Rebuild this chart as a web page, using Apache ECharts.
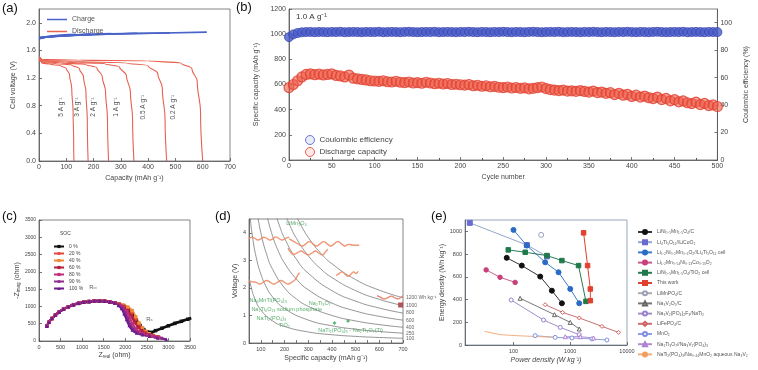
<!DOCTYPE html>
<html><head><meta charset="utf-8">
<script src="https://cdn.jsdelivr.net/npm/echarts@6/dist/echarts.min.js"></script>
<style>html,body{margin:0;padding:0;background:#fff}#c{width:758px;height:370px}</style>
</head><body><div id="c"></div>
<script>
// ---------- Panel (a) ----------
const chargeA = [
  [[0,1.77],[30,1.80],[70,1.82],[110,1.83],[135,1.835]],
  [[0,1.77],[40,1.80],[100,1.82],[150,1.83],[190,1.84]],
  [[0,1.78],[50,1.80],[130,1.82],[200,1.835],[265,1.845]],
  [[0,1.78],[60,1.805],[160,1.825],[260,1.84],[360,1.85]],
  [[0,1.785],[80,1.81],[200,1.83],[340,1.845],[480,1.855]],
  [[0,1.79],[100,1.815],[250,1.835],[420,1.85],[615,1.865]]
];
const dischargeA = [
  [[0,1.46],[10,1.42],[40,1.40],[80,1.38],[100,1.34],[112,1.25],[120,1.05],[125,0.7],[127,0.3],[128,0]],
  [[0,1.47],[10,1.43],[60,1.41],[120,1.39],[148,1.34],[163,1.22],[172,1.0],[177,0.6],[180,0]],
  [[0,1.48],[10,1.44],[80,1.42],[170,1.40],[212,1.35],[232,1.22],[244,1.0],[251,0.6],[255,0]],
  [[0,1.49],[10,1.45],[100,1.43],[240,1.41],[295,1.36],[320,1.24],[335,1.0],[343,0.6],[348,0]],
  [[0,1.50],[10,1.46],[130,1.44],[320,1.42],[400,1.38],[435,1.27],[452,1.05],[462,0.6],[468,0]],
  [[0,1.51],[10,1.47],[150,1.46],[400,1.45],[520,1.42],[560,1.34],[580,1.15],[592,0.7],[600,0]]
];
const rateCap = [82,140,198,284,382,492];
const rateVolt = [0.78,0.78,0.78,0.78,0.78,0.78];
const rateText = ['5 A g⁻¹','3 A g⁻¹','2 A g⁻¹','1 A g⁻¹','0.5 A g⁻¹','0.2 A g⁻¹'];

// ---------- Panel (b) ----------
const cycles = [0,5,10,15,20,25,30,35,40,45,50,55,60,65,70,75,80,85,90,95,100,105,110,115,120,125,130,135,140,145,150,155,160,165,170,175,180,185,190,195,200,205,210,215,220,225,230,235,240,245,250,255,260,265,270,275,280,285,290,295,300,305,310,315,320,325,330,335,340,345,350,355,360,365,370,375,380,385,390,395,400,405,410,415,420,425,430,435,440,445,450,455,460,465,470,475,480,485,490,495,500];
const coulombic = [
  89.5,91.5,92.5,93.0,93.2,93.3,93.1,93.3,93.2,93.1,
  93.3,93.2,93.4,93.1,93.2,93.3,93.2,93.1,93.3,93.2,
  93.2,93.4,93.1,93.2,93.3,93.2,93.1,93.3,93.4,93.2,
  93.1,93.2,93.3,93.2,93.4,93.1,93.2,93.3,93.2,93.1,
  93.3,93.2,93.4,93.2,93.1,93.3,93.2,93.1,93.3,93.2,
  93.4,93.2,93.1,93.3,93.2,93.1,93.3,93.4,93.2,93.1,
  93.2,93.3,93.2,93.4,93.1,93.2,93.3,93.2,93.1,93.3,
  93.2,93.4,93.2,93.1,93.3,93.2,93.1,93.3,93.2,93.4,
  93.2,93.1,93.3,93.2,93.1,93.3,93.4,93.2,93.1,93.2,
  93.3,93.2,93.4,93.1,93.2,93.3,93.2,93.1,93.3,93.2,
  93.2];
const dischargeCap = [
  575,600,630,660,680,685,678,682,676,680,
  684,672,668,660,675,650,645,640,636,630,
  628,625,630,622,620,626,618,615,620,612,
  615,610,618,612,606,610,604,608,600,602,
  598,595,600,590,594,586,590,582,585,578,
  575,580,572,576,570,573,566,570,575,580,
  568,560,556,552,555,548,550,546,552,545,
  540,548,536,540,530,535,520,530,515,522,
  505,515,500,508,495,488,500,480,490,470,
  480,462,470,455,448,460,440,450,432,438,
  425];

// ---------- Panel (c) ----------
const socNames = ['0 %','20 %','40 %','60 %','80 %','90 %','100 %'];
const nyqArc = [[180,430],[230,540],[300,650],[380,750],[470,840],[570,920],[680,990],[800,1050],[920,1090],[1040,1120],[1160,1140],[1280,1155],[1400,1160],[1520,1150],[1640,1130],[1760,1100]];
const nyqTails = [
  [[1860,1060],[1960,1000],[2060,900],[2160,760],[2250,600],[2340,450],[2430,330],[2520,260],[2600,250],[2700,300],[2850,370],[3000,440],[3150,510],[3300,570],[3450,630],[3530,660]],
  [[1860,1070],[1960,1020],[2060,940],[2160,800],[2250,620],[2330,450],[2410,320],[2480,240],[2560,180],[2650,140],[2750,110]],
  [[1860,1075],[1960,1040],[2060,980],[2160,880],[2240,700],[2320,520],[2400,380],[2480,280],[2560,210],[2650,160],[2760,120]],
  [[1860,1060],[1960,1000],[2050,880],[2140,720],[2220,540],[2300,400],[2380,300],[2460,230],[2550,180],[2650,140],[2760,110]],
  [[1860,1050],[1950,980],[2030,850],[2100,680],[2170,500],[2240,360],[2320,270],[2420,210],[2530,170],[2650,140],[2780,100]],
  [[1850,1040],[1930,960],[2000,820],[2060,650],[2120,480],[2190,340],[2280,250],[2400,190],[2550,150],[2700,110],[2850,80]],
  [[1840,1030],[1910,940],[1970,790],[2030,620],[2090,450],[2160,320],[2260,230],[2400,180],[2560,140],[2750,90],[2950,50]]
];
const nyqNotePos = [[1250,1560],[2560,640]];
const nyqNoteText = ['R{s|ct}','R{s|s}'];

// ---------- Panel (d) ----------
const isoLines = [
  [[250,4.6],[260,4.423],[300,3.833],[350,3.286],[400,2.875],[500,2.3],[600,1.917],[700,1.643]],
  [[200,4.75],[220,4.318],[250,3.8],[300,3.167],[350,2.714],[400,2.375],[500,1.9],[600,1.583],[700,1.357]],
  [[160,4.75],[180,4.222],[200,3.8],[250,3.04],[300,2.533],[400,1.9],[500,1.52],[600,1.267],[700,1.086]],
  [[125,4.64],[150,3.867],[175,3.314],[200,2.9],[250,2.32],[300,1.933],[400,1.45],[500,1.16],[600,0.967],[700,0.829]],
  [[85,4.706],[100,4.0],[125,3.2],[150,2.667],[200,2.0],[250,1.6],[300,1.333],[400,1.0],[500,0.8],[600,0.667],[700,0.571]],
  [[50,5.0],[55,4.545],[65,3.846],[80,3.125],[100,2.5],[125,2.0],[150,1.667],[200,1.25],[300,0.833],[400,0.625],[500,0.5],[600,0.417],[700,0.357]],
  [[50,2.4],[60,2.0],[75,1.6],[100,1.2],[150,0.8],[200,0.6],[300,0.4],[400,0.3],[500,0.24],[600,0.2],[700,0.171]]
];
const isoText = ['1200 Wh kg⁻¹','1000','800','600','400','250','100'];
const cathodeWaves = [
  [[50,3.78],[62,3.84],[75,3.8],[88,3.74],[100,3.78],[112,3.84],[125,3.8],[138,3.74],[150,3.78],[162,3.85],[175,3.8],[190,3.74],[205,3.8],[220,3.84]],
  [[220,3.78],[240,3.68],[260,3.58],[275,3.52],[290,3.6],[305,3.68],[320,3.6],[335,3.52],[350,3.6],[365,3.68],[380,3.6],[395,3.52],[410,3.6],[425,3.68],[440,3.6],[455,3.52],[470,3.58],[490,3.55],[515,3.55]],
  [[215,3.45],[225,3.3],[240,3.22],[255,3.28],[270,3.34],[285,3.26],[300,3.2],[315,3.26],[330,3.34],[345,3.26],[360,3.2],[372,3.3],[383,3.4]],
  [[50,2.25],[65,2.22],[80,2.2],[95,2.14],[110,2.2],[125,2.27],[140,2.2],[155,2.14],[170,2.2],[185,2.27],[200,2.2],[215,2.14],[230,2.2],[245,2.3],[255,2.45],[263,2.55]],
  [[418,2.45],[430,2.52],[442,2.58],[455,2.5],[468,2.42],[480,2.5],[492,2.58],[502,2.52],[510,2.6]],
  [[590,1.72],[605,1.66],[620,1.6],[635,1.64],[650,1.7],[665,1.64],[680,1.6],[692,1.66],[700,1.72]]
];
const thisWorkD = [[690,1.38]];
const anodePos = [[205,4.32],[50,1.55],[300,1.45],[58,1.2],[80,0.9],[175,0.62],[340,0.45]];
const anodeText = ['LiMn₂O₄','Na₃MnTi(PO₄)₃','Na₂Ti₃O₇','Na₂Ti₆O₁₃ sodium phosphate','NaTi₂(PO₄)₃','TiO₂','NaTi₂(PO₄)₃ - Na₂Ti₃O₇(Ti)'];
const anodeMarks = [[411,0.73],[468,0.8]];

// ---------- Panel (e) ----------
const ragoneNames = ['LiNi₀.₅Mn₁.₅O₄/C','Li₄Ti₅O₁₂//LiCoO₂','Li₁.₂Ni₀.₂Mn₀.₆O₂//Li₄Ti₅O₁₂ cell','Li₁.₂Mn₀.₅₄Ni₀.₁₃Co₀.₁₃O₂','LiNi₀.₅Mn₁.₅O₄/TiO₂ cell','This work','LiMnPO₄/C','Na₃V₂O₅/C','Na₃V₂(PO₄)₂F₃/NaTi₂','LiFePO₄/C','MnO₂','Na₂Ti₃O₇//Na₃V₂(PO₄)₃','NaTi₂(PO₄)₃/Na₀.₄₄MnO₂ aqueous Na₃V₂'];
const ragoneData = [
  [[76,767],[140,699],[296,602],[475,478],[713,367]],
  [[17,1075],[172,880],[390,780]],
  [[100,1013],[172,875],[362,728],[622,640],[1000,493],[1440,367]],
  [[33,661],[58,596],[107,551]],
  [[81,837],[161,816],[388,787],[713,743],[1400,699],[1890,384]],
  [[1720,987],[2020,699],[2260,493],[2260,390]],
  [[308,969]],
  [[131,411],[528,267],[1000,199],[1442,141]],
  [[91,396],[338,220],[667,155],[1442,91]],
  [[362,355],[733,287],[1442,238],[3623,164],[7115,111]],
  [[241,82],[543,67],[1072,62],[2415,53],[4434,44]],
  [[817,73],[1500,73],[2577,62]],
  [[31,120],[58,91],[115,82],[295,73],[582,67]]
];

// ---------- styling / assembly ----------
const FF = 'Liberation Sans, Arial, sans-serif';
function merge(a,b){ const o = Array.isArray(a)?a.slice():Object.assign({},a); for(const k in b){ if(b[k] && typeof b[k]==='object' && !Array.isArray(b[k]) && a[k] && typeof a[k]==='object') o[k]=merge(a[k],b[k]); else o[k]=b[k]; } return o; }
function axis(extra){
  return merge({
    axisLine:{show:true,onZero:false,lineStyle:{color:'#555',width:0.8}},
    axisTick:{show:true,inside:true,length:3,lineStyle:{color:'#555',width:0.8}},
    axisLabel:{fontSize:7,color:'#444',fontFamily:FF,margin:3,formatter:v=>String(v)},
    splitLine:{show:false},
    nameLocation:'middle',
    nameTextStyle:{fontSize:7,color:'#444',fontFamily:FF}
  }, extra);
}
const gridStyle = {show:true,borderColor:'#666',borderWidth:0.8,backgroundColor:'transparent'};
const hidden = {color:'rgba(0,0,0,0)'};

const series = [];
chargeA.forEach(d=>series.push({name:'Charge',type:'line',xAxisIndex:0,yAxisIndex:0,data:d,smooth:true,symbol:'none',lineStyle:{color:'#4a63c8',width:1.6},itemStyle:{color:'#4a63c8'}}));
dischargeA.forEach(d=>series.push({name:'Discharge',type:'line',xAxisIndex:0,yAxisIndex:0,data:d,smooth:0.4,smoothMonotone:'y',symbol:'none',lineStyle:{color:'#e8604f',width:1.1},itemStyle:{color:'#e8604f'}}));
series.push({name:'rates',type:'scatter',xAxisIndex:0,yAxisIndex:0,symbol:'circle',symbolSize:1,itemStyle:hidden,data:rateCap.map((c,i)=>[c,rateVolt[i]]),
  label:{show:true,position:'inside',rotate:90,fontSize:6.5,color:'#222',fontFamily:FF,formatter:p=>rateText[p.dataIndex]}});

series.push({name:'Coulombic efficiency',type:'scatter',xAxisIndex:1,yAxisIndex:2,data:cycles.map((c,i)=>[c,coulombic[i]]),symbolSize:9,
  itemStyle:{color:'#4a5cc8',borderColor:'#3646b0',borderWidth:1}});
series.push({name:'Discharge capacity',type:'scatter',xAxisIndex:1,yAxisIndex:1,data:cycles.map((c,i)=>[c,dischargeCap[i]]),symbolSize:10,
  itemStyle:{color:'rgba(238,90,70,0.75)',borderColor:'#e0402f',borderWidth:1.2}});

const socColors = ['#111111','#e8453c','#f0893a','#b3203c','#c42f7c','#8e2c8e','#6b1b8c'];
const socSymbols = ['rect','circle','rect','rect','rect','circle','triangle'];
nyqTails.forEach((t,i)=>series.push({name:socNames[i],type:'line',xAxisIndex:2,yAxisIndex:3,data:(i===0?nyqArc.slice(8):nyqArc).concat(t),
  smooth:true,symbol:socSymbols[i],symbolSize:3.5,showSymbol:true,lineStyle:{color:socColors[i],width:i===0?2.8:2.2},itemStyle:{color:socColors[i]}}));
series.push({name:'notesC',type:'scatter',xAxisIndex:2,yAxisIndex:3,symbol:'circle',symbolSize:1,itemStyle:hidden,data:nyqNotePos,
  label:{show:true,position:'inside',fontSize:6,color:'#333',fontFamily:FF,formatter:p=>nyqNoteText[p.dataIndex],rich:{s:{fontSize:4,verticalAlign:'bottom',color:'#333'}}}});

isoLines.forEach((d,i)=>series.push({name:'iso'+i,type:'line',xAxisIndex:3,yAxisIndex:4,data:d,smooth:true,symbol:'none',clip:true,
  lineStyle:{color:'#7a7a7a',width:0.8},endLabel:{show:true,formatter:isoText[i],fontSize:5,color:'#666',fontFamily:FF,distance:3}}));
cathodeWaves.forEach((d,i)=>series.push({name:'cat'+i,type:'line',xAxisIndex:3,yAxisIndex:4,data:d,smooth:true,symbol:'none',
  lineStyle:{color:i===5?'#e8806a':'#ec8b66',width:1.4,opacity:0.9}}));
series.push({name:'twD',type:'scatter',xAxisIndex:3,yAxisIndex:4,data:thisWorkD,symbol:'rect',symbolSize:5,itemStyle:{color:'#b0202a'}});
series.push({name:'anode',type:'scatter',xAxisIndex:3,yAxisIndex:4,symbol:'circle',symbolSize:1,itemStyle:hidden,data:anodePos,
  label:{show:true,position:'right',distance:0,fontSize:5.5,color:'#2a9a45',fontFamily:FF,formatter:p=>anodeText[p.dataIndex]}});
series.push({name:'anodeM',type:'scatter',xAxisIndex:3,yAxisIndex:4,data:anodeMarks,symbol:'diamond',symbolSize:4,itemStyle:{color:'#3aa655'}});

const eColors = ['#111111','#6a6ad0','#2a6bc4','#c8407a','#1f7a4a','#e0402f','#9aa0b8','#666666','#9a7fd0','#d06060','#7f8fe0','#b080d0','#f0a060'];
const eLine = ['#333','#8fa8c8','#3a7bd0','#c85a8a','#2a7a55','#e0402f','#aaa','#777','#a090c8','#c87070','#8f9fe0','#b090d0','#f0b080'];
const eSym = ['circle','rect','circle','circle','rect','rect','circle','triangle','circle','diamond','circle','triangle','none'];
const eSize = [5,5,5,4.5,4.5,4.5,5,4,4,4,4,4,4];
ragoneData.forEach((d,i)=>series.push({name:ragoneNames[i],type:'line',xAxisIndex:4,yAxisIndex:5,data:d,
  symbol:eSym[i],symbolSize:eSize[i],showSymbol:true,
  lineStyle:{color:eLine[i],width:1},
  itemStyle:{color:i>=6&&i<12?'#fff':eColors[i],borderColor:eColors[i],borderWidth:1}}));

const lineIcon = 'path://M0,0L20,0L20,1.5L0,1.5Z';
const option = {
  animation:false,
  backgroundColor:'#fff',
  textStyle:{fontFamily:FF},
  grid:[
    merge(gridStyle,{left:39,top:9,width:191,height:152}),
    merge(gridStyle,{left:289,top:9,width:436,height:151}),
    merge(gridStyle,{left:39,top:220,width:151,height:121}),
    merge(gridStyle,{left:249,top:219,width:154,height:124}),
    merge(gridStyle,{left:465,top:220,width:162,height:125,borderColor:'#8090a8'})
  ],
  xAxis:[
    axis({gridIndex:0,type:'value',min:0,max:700,interval:100,name:'Capacity (mAh g⁻¹)',nameGap:14}),
    axis({gridIndex:1,type:'value',min:0,max:500,interval:50,name:'Cycle number',nameGap:14,minorTick:{show:true,splitNumber:2,length:2}}),
    axis({gridIndex:2,type:'value',min:0,max:3500,interval:500,name:'Z{s|real} (ohm)',nameGap:11,nameTextStyle:{rich:{s:{fontSize:4.5,verticalAlign:'bottom'}}},axisLabel:{fontSize:5.5}}),
    axis({gridIndex:3,type:'value',min:50,max:700,interval:50,name:'Specific capacity (mAh g⁻¹)',nameGap:12,axisLabel:{fontSize:5.5,formatter:v=>v%100===0?String(v):''}}),
    axis({gridIndex:4,type:'log',logBase:10,min:14,max:10000,name:'Power density (W kg⁻¹)',nameGap:12,axisLabel:{fontSize:5.5,showMinLabel:false,formatter:v=>[100,1000,10000].indexOf(Math.round(v))>=0?String(Math.round(v)):''},nameTextStyle:{fontStyle:'italic'}})
  ],
  yAxis:[
    axis({gridIndex:0,type:'value',min:0,max:2.2,interval:0.4,name:'Cell voltage (V)',nameGap:22,axisLabel:{showMaxLabel:false,formatter:v=>v.toFixed(1)}}),
    axis({gridIndex:1,type:'value',min:0,max:1200,interval:200,name:'Specific capacity (mAh g⁻¹)',nameGap:24}),
    axis({gridIndex:1,type:'value',position:'right',min:0,max:110,interval:20,name:'Coulombic efficiency (%)',nameGap:17,axisLabel:{showMaxLabel:false}}),
    axis({gridIndex:2,type:'value',min:0,max:3500,interval:500,name:'-Z{s|imag} (ohm)',nameGap:18,nameTextStyle:{rich:{s:{fontSize:4.5,verticalAlign:'bottom'}}},axisLabel:{fontSize:5}}),
    axis({gridIndex:3,type:'value',min:0,max:4.5,interval:1,name:'Voltage (V)',nameGap:10,axisLabel:{fontSize:5.5,showMaxLabel:false}}),
    axis({gridIndex:4,type:'value',min:0,max:1100,interval:200,name:'Energy density (Wh kg⁻¹)',nameGap:16,axisLabel:{fontSize:5.5,showMaxLabel:false}})
  ],
  legend:[
    {left:42,top:11,orient:'vertical',itemWidth:20,itemHeight:2,itemGap:5,textStyle:{fontSize:7,color:'#555'},
      data:[{name:'Charge',icon:lineIcon},{name:'Discharge',icon:lineIcon}]},
    {left:300,top:130,orient:'vertical',itemWidth:9,itemHeight:9,itemGap:2,textStyle:{fontSize:8,color:'#444'},
      data:[{name:'Coulombic efficiency',icon:'circle',itemStyle:{color:'rgba(200,205,240,0.5)',borderColor:'#4a5ac0',borderWidth:1}},
            {name:'Discharge capacity',icon:'circle',itemStyle:{color:'rgba(255,200,195,0.5)',borderColor:'#e0402f',borderWidth:1}}]},
    {left:48,top:239,orient:'vertical',itemWidth:10,itemHeight:4,itemGap:2,textStyle:{fontSize:5,color:'#444',lineHeight:4},data:socNames},
    {left:632,top:224,orient:'vertical',itemWidth:14,itemHeight:5,itemGap:4.2,textStyle:{fontSize:5,color:'#555',lineHeight:5},data:ragoneNames}
  ],
  graphic:[
    {type:'text',left:2,top:2,style:{text:'(a)',fontSize:13,fill:'#111',fontFamily:FF}},
    {type:'text',left:236,top:1,style:{text:'(b)',fontSize:13,fill:'#111',fontFamily:FF}},
    {type:'text',left:2,top:210,style:{text:'(c)',fontSize:13,fill:'#111',fontFamily:FF}},
    {type:'text',left:215,top:210,style:{text:'(d)',fontSize:13,fill:'#111',fontFamily:FF}},
    {type:'text',left:431,top:210,style:{text:'(e)',fontSize:13,fill:'#111',fontFamily:FF}},
    {type:'text',left:296,top:13,style:{text:'1.0 A g⁻¹',fontSize:8,fill:'#333',fontFamily:FF}},
    {type:'text',left:60,top:231,style:{text:'SOC',fontSize:5,fill:'#444',fontFamily:FF}}
  ],
  series:series
};
const chart = echarts.init(document.getElementById('c'));
chart.setOption(option);
</script></body></html>
